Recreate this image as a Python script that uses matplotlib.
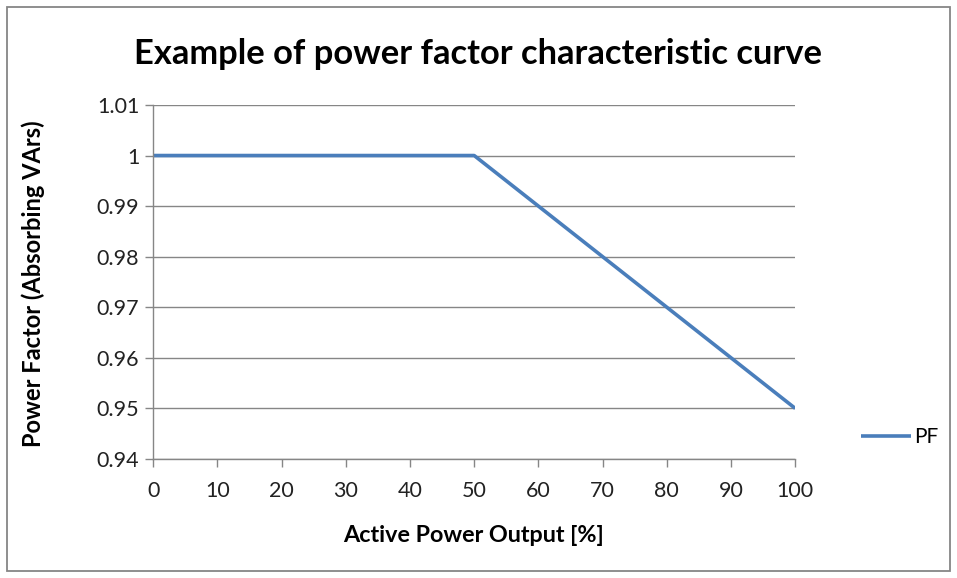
import matplotlib
matplotlib.use('Agg')
import matplotlib.pyplot as plt
from matplotlib.patches import Rectangle

# data
output_pct = [0, 10, 20, 30, 40, 50, 60, 70, 80, 90, 100]
pf = [1.0, 1.0, 1.0, 1.0, 1.0, 1.0, 0.99, 0.98, 0.97, 0.96, 0.95]
x_ticks = [0, 10, 20, 30, 40, 50, 60, 70, 80, 90, 100]
y_ticks = [0.94, 0.95, 0.96, 0.97, 0.98, 0.99, 1.0, 1.01]
y_labels = ['0.94', '0.95', '0.96', '0.97', '0.98', '0.99', '1', '1.01']

plt.rcParams['font.family'] = ['Lato', 'DejaVu Sans']
grey = '#868686'

fig = plt.figure(figsize=(9.57, 5.78), dpi=100)
ax = fig.add_axes([0.160, 0.2059, 0.671, 0.6125])

line, = ax.plot(output_pct, pf, color='#4A7EBB', lw=2.6, solid_capstyle='butt', label='PF')

ax.set_xlim(0, 100)
ax.set_ylim(0.94, 1.01)
ax.set_xticks(x_ticks)
ax.set_yticks(y_ticks)
ax.set_yticklabels(y_labels)
ax.tick_params(axis='both', colors=grey, labelcolor='#222222', labelsize=15.5,
               length=6, width=1, direction='out')
ax.tick_params(axis='x', pad=10)
ax.tick_params(axis='y', pad=4)
ax.grid(axis='y', color=grey, lw=1)
ax.set_axisbelow(True)
for s in ['top', 'right']:
    ax.spines[s].set_visible(False)
for s in ['left', 'bottom']:
    ax.spines[s].set_color(grey)
    ax.spines[s].set_linewidth(1)

fig.text(0.5, 0.906, 'Example of power factor characteristic curve',
         ha='center', va='center', fontsize=24.8, fontweight='bold', color='black')
fig.text(0.495, 0.073, 'Active Power Output [%]', ha='center', va='center',
         fontsize=16.8, fontweight='bold', color='black')
fig.text(0.035, 0.51, 'Power Factor (Absorbing VArs)', ha='center', va='center',
         rotation=90, fontsize=17, fontweight='bold', color='black')

fig.legend(handles=[line], loc='center left', bbox_to_anchor=(0.891, 0.244),
           frameon=False, fontsize=15, handlelength=2.4, handletextpad=0.15,
           borderaxespad=0)

fig.patches.append(Rectangle((7 / 957, 7 / 578), 1 - 14 / 957, 1 - 14 / 578,
                             transform=fig.transFigure, fill=False,
                             edgecolor=grey, lw=1.3))

fig.savefig('out.png', dpi=100)
